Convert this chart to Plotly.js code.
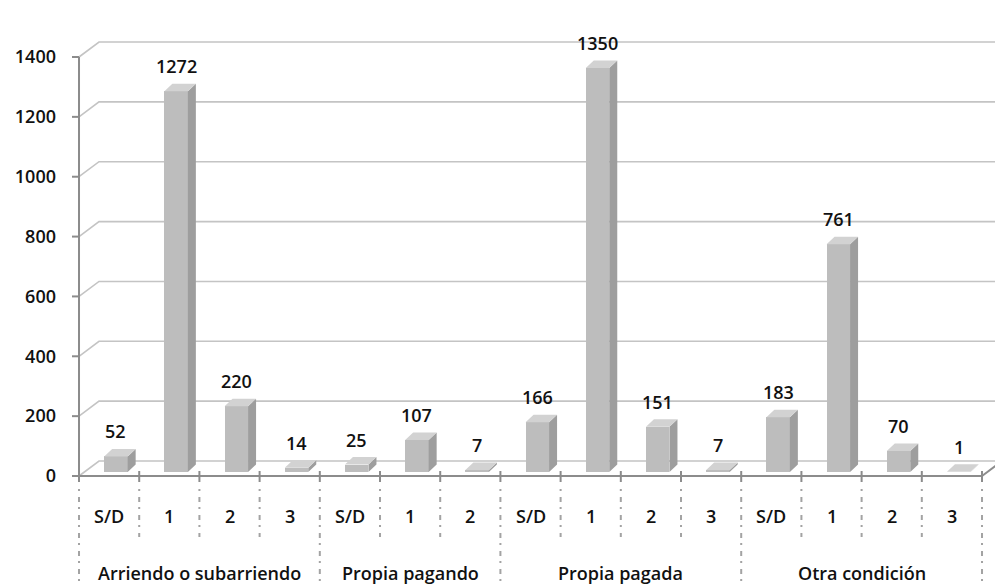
<!DOCTYPE html>
<html><head><meta charset="utf-8">
<script src="https://cdn.plot.ly/plotly-3.0.1.min.js"></script>
<style>html,body{margin:0;padding:0;background:#fff}#chart{width:995px;height:586px}</style>
</head><body><div id="chart"></div>
<script>
// ---- data ----
var groups = ["Arriendo o subarriendo", "Propia pagando", "Propia pagada", "Otra condición"];
var groupSizes = [4, 3, 4, 4];
var subLabels = ["S/D", "1", "2", "3", "S/D", "1", "2", "S/D", "1", "2", "3", "S/D", "1", "2", "3"];
var values = [52, 1272, 220, 14, 25, 107, 7, 166, 1350, 151, 7, 183, 761, 70, 1];
var yTicks = [0, 200, 400, 600, 800, 1000, 1200, 1400];

// ---- geometry ----
var W = 995, H = 586, L = 76, T = 0, PW = 919, PH = 479;
var XU = 60.2, YU = 0.29929;
var xmin = -0.05, xmax = xmin + PW / XU;
var ymin = -10, ymax = ymin + PH / YU;
var DX = 20 / XU, DY = 15 / YU;            // wall depth
var OFF = 6.8 / XU, BW = 23.5 / XU, BASE = 4 / YU; // bar placement
var SDX = 8 / XU, SDY = 7.5 / YU;           // bar depth
function paperX(px) { return (px - L) / PW; }
function paperY(py) { return (T + PH - py) / PH; }

var FONT = {family: "'Open Sans', Lato, sans-serif", size: 18, weight: 600, color: "#111"};
var AXC = "#8c8c8c", GRC = "#c4c4c4";

var n = values.length;
var xs = [], bases = [];
for (var i = 0; i < n; i++) { xs.push(i + 0.5 + OFF); bases.push(BASE); }

// faces
var sideX = [], sideY = [], topX = [], topY = [];
for (var i = 0; i < n; i++) {
  var xl = xs[i] - BW / 2, xr = xs[i] + BW / 2, t = BASE + values[i];
  sideX.push(xr, xr, xr + SDX, xr + SDX, xr, null);
  sideY.push(BASE, t, t + SDY, BASE + SDY, BASE, null);
  topX.push(xl, xr, xr + SDX, xl + SDX, xl, null);
  topY.push(t, t, t + SDY, t + SDY, t, null);
}

var traces = [
  {type: "bar", x: xs, y: values, base: bases, width: BW,
   marker: {color: "#bdbdbd", line: {width: 0}}, hoverinfo: "skip", showlegend: false},
  {type: "scatter", mode: "lines", x: sideX, y: sideY, fill: "toself", fillcolor: "#9e9e9e",
   line: {width: 0, color: "#9e9e9e"}, hoverinfo: "skip", showlegend: false},
  {type: "scatter", mode: "lines", x: topX, y: topY, fill: "toself", fillcolor: "#d2d2d2",
   line: {width: 0, color: "#d2d2d2"}, hoverinfo: "skip", showlegend: false}
];

var shapes = [];
// back-wall gridlines with depth diagonal
yTicks.forEach(function (v) {
  shapes.push({type: "path", xref: "x", yref: "y", layer: "below",
    path: "M 0," + v + " L " + DX + "," + (v + DY) + " L " + xmax + "," + (v + DY),
    line: {color: GRC, width: 1.6}});
  // y tick marks
  shapes.push({type: "line", xref: "paper", yref: "y", x0: paperX(72), x1: paperX(79), y0: v, y1: v,
    line: {color: AXC, width: 2}});
});
// y axis line
shapes.push({type: "line", xref: "x", yref: "y", x0: 0, x1: 0, y0: 0, y1: yTicks[yTicks.length - 1],
  line: {color: AXC, width: 2}});
// front x axis line and right floor edge
shapes.push({type: "line", xref: "x", yref: "y", x0: 0, x1: n, y0: 0, y1: 0, line: {color: AXC, width: 2}});
shapes.push({type: "line", xref: "x", yref: "y", x0: n, x1: n + DX, y0: 0, y1: DY, line: {color: AXC, width: 2}});

// x tick marks and separators
var groupBounds = [0];
groupSizes.forEach(function (s) { groupBounds.push(groupBounds[groupBounds.length - 1] + s); });
for (var k = 0; k <= n; k++) {
  shapes.push({type: "line", xref: "x", yref: "paper", x0: k, x1: k, y0: paperY(471), y1: paperY(482),
    line: {color: AXC, width: 2}});
  var isGroup = groupBounds.indexOf(k) >= 0;
  shapes.push({type: "line", xref: "x", yref: "paper", x0: k, x1: k, y0: paperY(489),
    y1: paperY(isGroup ? 590 : 537), line: {color: "#a3a3a3", width: 2, dash: "2px,6px,5px,5px"}});
}

var annotations = [];
for (var i = 0; i < n; i++) {
  annotations.push({xref: "x", yref: "y", x: xs[i], y: BASE + values[i], yshift: 25, yanchor: "middle",
    text: String(values[i]), showarrow: false, font: FONT});
  annotations.push({xref: "x", yref: "paper", x: i + 0.5, y: paperY(516), yanchor: "middle",
    text: subLabels[i], showarrow: false, font: FONT});
}
for (var g = 0; g < groups.length; g++) {
  annotations.push({xref: "x", yref: "paper", x: (groupBounds[g] + groupBounds[g + 1]) / 2, y: paperY(573),
    yanchor: "middle", text: groups[g], showarrow: false, font: FONT});
}

var layout = {
  width: W, height: H,
  margin: {l: L, r: W - L - PW, t: T, b: H - T - PH, pad: 0},
  paper_bgcolor: "#fff", plot_bgcolor: "rgba(0,0,0,0)",
  showlegend: false, bargap: 0,
  xaxis: {range: [xmin, xmax], showgrid: false, zeroline: false, showline: false,
          showticklabels: false, ticks: "", fixedrange: true},
  yaxis: {range: [ymin, ymax], showgrid: false, zeroline: false, showline: false,
          tickmode: "array", tickvals: yTicks, ticktext: yTicks.map(String), ticks: "",
          ticklabelstandoff: 19, tickfont: FONT, fixedrange: true},
  shapes: shapes, annotations: annotations
};
Plotly.newPlot("chart", traces, layout, {displayModeBar: false, staticPlot: true});
</script></body></html>
